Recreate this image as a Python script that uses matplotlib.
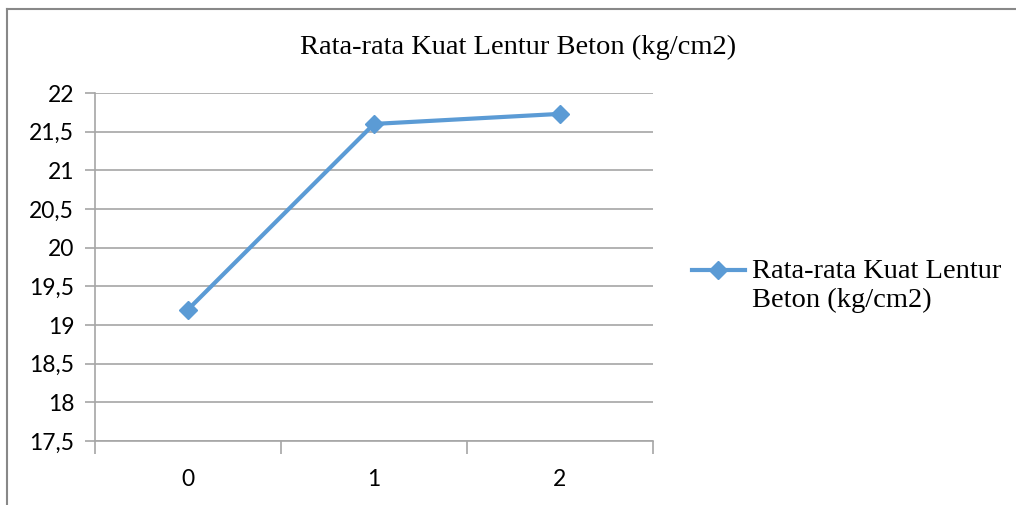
import matplotlib.pyplot as plt
from matplotlib.lines import Line2D

categories = ['0', '1', '2']
values = [19.2, 21.6, 21.73]
yticks = [17.5, 18, 18.5, 19, 19.5, 20, 20.5, 21, 21.5, 22]
ytick_labels = ['17,5', '18', '18,5', '19', '19,5', '20', '20,5', '21', '21,5', '22']
title = 'Rata-rata Kuat Lentur Beton (kg/cm2)'
series_name = 'Rata-rata Kuat Lentur\nBeton (kg/cm2)'

blue = '#5B9BD5'
grid_gray = '#A6A6A6'
serif = ['Liberation Serif', 'DejaVu Serif']
sans = ['Lato', 'DejaVu Sans']

fig = plt.figure(figsize=(10.16, 5.05), dpi=100)
ax = fig.add_axes([95 / 1016, 64 / 505, 558 / 1016, 348 / 505])

x = list(range(len(categories)))
line, = ax.plot(x, values, color=blue, linewidth=3, marker='D', markersize=9,
                markerfacecolor=blue, markeredgecolor=blue, zorder=3)

ax.set_xlim(-0.5, len(categories) - 0.5)
ax.set_ylim(yticks[0], yticks[-1])
ax.set_yticks(yticks)
ax.set_yticklabels(ytick_labels, family=sans, fontsize=16.5)
ax.set_xticks(x)
ax.set_xticklabels(categories, family=sans, fontsize=16.5)
ax.tick_params(axis='x', length=0, pad=20)
ax.tick_params(axis='y', length=7, color=grid_gray, width=1.2, pad=8)
# category boundary ticks on the x axis
ax.set_xticks([-0.5, 0.5, 1.5, 2.5], minor=True)
ax.tick_params(axis='x', which='minor', length=9, color=grid_gray, width=1.2)

ax.grid(axis='y', color=grid_gray, linewidth=1.2)
ax.set_axisbelow(True)
for s in ['top', 'right']:
    ax.spines[s].set_visible(False)
for s in ['left', 'bottom']:
    ax.spines[s].set_color(grid_gray)
    ax.spines[s].set_linewidth(1.2)

fig.text(518 / 1016, 1 - 47 / 505, title, family=serif, fontsize=20.5,
         ha='center', va='center')

# taller handle box lifts the marker up to the first text line
leg = fig.legend([line], [series_name], loc='center left',
                 bbox_to_anchor=(692 / 1016, 1 - 288 / 505), frameon=False,
                 prop={'family': serif, 'size': 20.5}, handlelength=1.85,
                 handleheight=4.4, handletextpad=0.25, labelspacing=0,
                 borderpad=0, borderaxespad=0)

# outer chart border (top and left visible)
fig.add_artist(Line2D([7 / 1016, 1], [1 - 9 / 505, 1 - 9 / 505],
                      color='#888888', linewidth=1.5))
fig.add_artist(Line2D([7 / 1016, 7 / 1016], [0, 1 - 9 / 505],
                      color='#888888', linewidth=1.5))

fig.savefig('out.png', dpi=100)
